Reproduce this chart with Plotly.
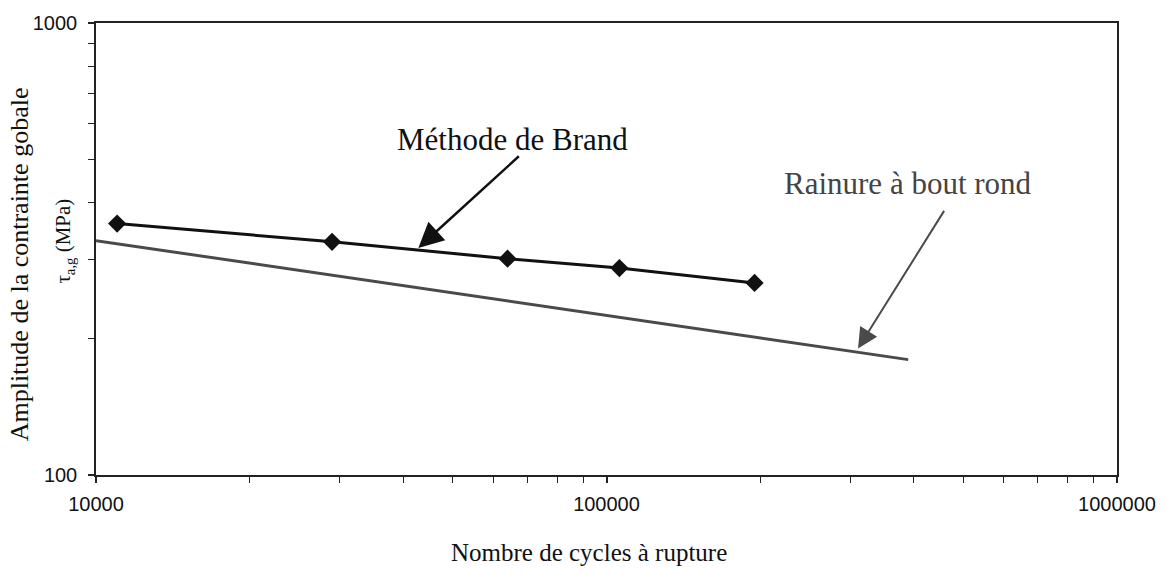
import math
import plotly.graph_objects as go

# Méthode de Brand: measured points
brand_cycles = [11000, 29000, 64000, 106000, 195000]
brand_tau = [360, 328, 301, 287, 266]

# Rainure à bout rond: fitted S-N line (end points)
rainure_cycles = [10000, 390000]
rainure_tau = [330, 180]

x_tickvals = [10000, 100000, 1000000]
x_ticktext = ["10000", "100000", "1000000"]
y_tickvals = [100, 1000]
y_ticktext = ["100", "1000"]

SERIF = "Liberation Serif, Times New Roman, serif"
SANS = "Liberation Sans, Arial, sans-serif"

fig = go.Figure()

fig.add_trace(go.Scatter(
    x=rainure_cycles, y=rainure_tau, mode="lines",
    line=dict(color="#4a4a4a", width=3),
    showlegend=False, hoverinfo="skip",
))

fig.add_trace(go.Scatter(
    x=brand_cycles, y=brand_tau, mode="lines+markers",
    line=dict(color="#111111", width=3),
    marker=dict(symbol="diamond", size=14, color="#111111"),
    showlegend=False,
))

axis_common = dict(
    type="log",
    showgrid=False,
    zeroline=False,
    showline=True,
    linecolor="#222222",
    linewidth=1.5,
    mirror=True,
    ticks="outside",
    ticklen=6,
    tickwidth=1.5,
    tickcolor="#222222",
    tickfont=dict(family=SANS, size=20, color="#111111"),
    minor=dict(ticks="outside", ticklen=6, tickwidth=1.2, tickcolor="#222222",
               dtick="D1", showgrid=False),
)

fig.update_xaxes(
    **axis_common,
    range=[4, 6],
    tickmode="array", tickvals=x_tickvals, ticktext=x_ticktext,
    ticklabelstandoff=4,
)
fig.update_yaxes(
    **axis_common,
    range=[2, 3],
    tickmode="array", tickvals=y_tickvals, ticktext=y_ticktext,
    ticklabelstandoff=7,
)


def px_to_paper(px, py):
    return (px - 96) / 1021, (475 - py) / 457


annotations = [
    # arrow to the Brand curve
    dict(x=math.log10(42800), y=math.log10(318), xref="x", yref="y",
         ax=102, ay=-93, axref="pixel", ayref="pixel",
         showarrow=True, arrowhead=2, arrowsize=2.0, arrowwidth=2.5,
         arrowcolor="#111111", text=""),
    dict(x=math.log10(65300), y=math.log10(552), xref="x", yref="y",
         text="Méthode de Brand", showarrow=False,
         xanchor="center", yanchor="middle",
         font=dict(family=SERIF, size=31, color="#111111")),
    # arrow to the rounded-end groove line
    dict(x=math.log10(311000), y=math.log10(190.6), xref="x", yref="y",
         ax=87, ay=-139, axref="pixel", ayref="pixel",
         showarrow=True, arrowhead=2, arrowsize=2.0, arrowwidth=2.0,
         arrowcolor="#4a4a4a", text=""),
    dict(x=math.log10(389600), y=math.log10(442), xref="x", yref="y",
         text="Rainure à bout rond", showarrow=False,
         xanchor="center", yanchor="middle",
         font=dict(family=SERIF, size=31, color="#444444")),
]

# axis titles placed by pixel position
for (px, py), text, size, angle in [
    ((589, 553), "Nombre de cycles à rupture", 25, 0),
    ((19, 262), "Amplitude de la contrainte gobale", 26, -90),
    ((64, 239), "τ<sub>a,g</sub> (MPa)", 21, -90),
]:
    xp, yp = px_to_paper(px, py)
    annotations.append(dict(
        x=xp, y=yp, xref="paper", yref="paper", text=text, showarrow=False,
        xanchor="center", yanchor="middle", textangle=angle,
        font=dict(family=SERIF, size=size, color="#111111"),
    ))

fig.update_layout(
    width=1174, height=575,
    margin=dict(l=96, r=57, t=18, b=100),
    paper_bgcolor="white",
    plot_bgcolor="white",
    annotations=annotations,
)

fig.write_html("out.html")
